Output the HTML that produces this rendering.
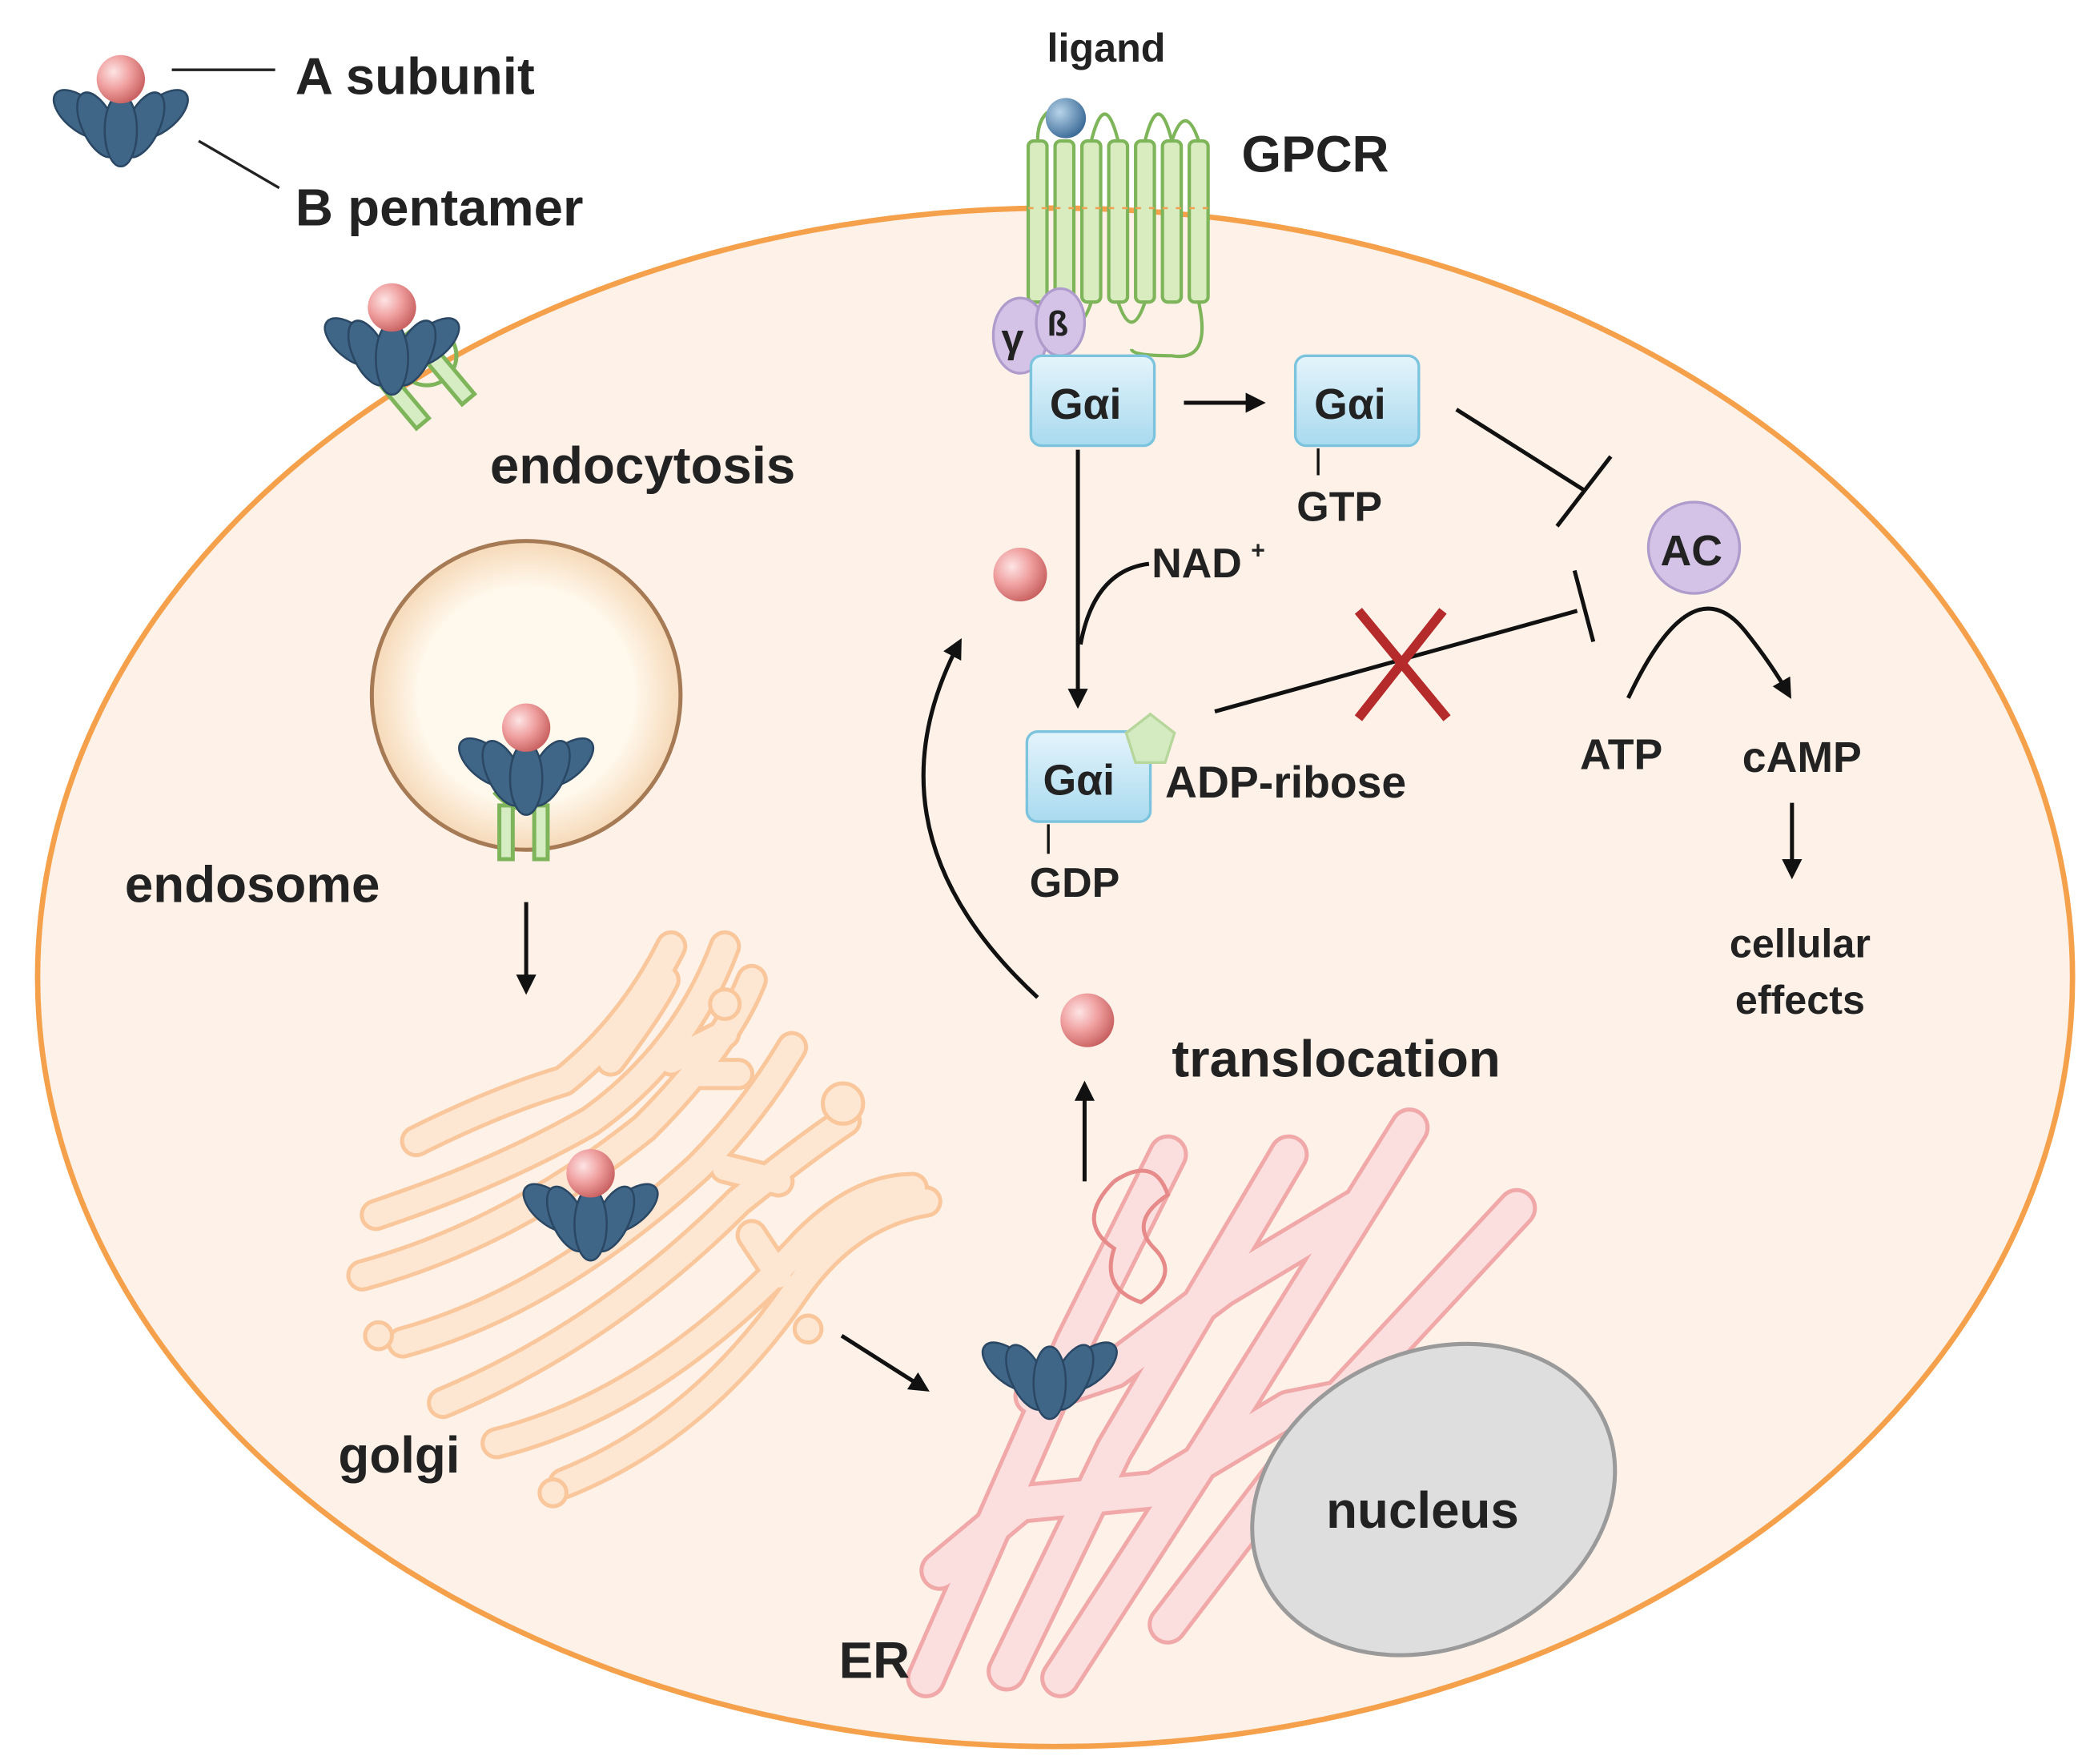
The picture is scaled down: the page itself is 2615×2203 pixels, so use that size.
<!DOCTYPE html>
<html><head><meta charset="utf-8"><style>
html,body{margin:0;padding:0;background:#fff}
svg{display:block}
text{font-family:"Liberation Sans",sans-serif;font-weight:bold;fill:#222}
</style></head><body>
<svg width="2615" height="2203" viewBox="0 0 1560 1314" preserveAspectRatio="none" xmlns="http://www.w3.org/2000/svg">
<defs>
<radialGradient id="pk" cx="0.35" cy="0.35" r="0.7"><stop offset="0" stop-color="#fde4e4"/><stop offset="0.5" stop-color="#f0a0a0"/><stop offset="1" stop-color="#c86060"/></radialGradient>
<radialGradient id="bl" cx="0.35" cy="0.35" r="0.7"><stop offset="0" stop-color="#b8d4ea"/><stop offset="1" stop-color="#3a6a96"/></radialGradient>
<linearGradient id="gb" x1="0" y1="0" x2="0" y2="1"><stop offset="0" stop-color="#e4f4fb"/><stop offset="1" stop-color="#a9daef"/></linearGradient>
<radialGradient id="endo" cx="0.5" cy="0.5" r="0.5"><stop offset="0.7" stop-color="#fff8ec"/><stop offset="1" stop-color="#f6d9b8"/></radialGradient>
<g id="fan">
<g fill="#3f6587" stroke="#2a4764" stroke-width="1.5">
<ellipse cx="-30" cy="10" rx="12" ry="24" transform="rotate(-50 -30 10)"/>
<ellipse cx="30" cy="10" rx="12" ry="24" transform="rotate(50 30 10)"/>
<ellipse cx="-17" cy="18" rx="12" ry="26" transform="rotate(-25 -17 18)"/>
<ellipse cx="17" cy="18" rx="12" ry="26" transform="rotate(25 17 18)"/>
<ellipse cx="0" cy="22" rx="12" ry="27"/>
</g></g>
<g id="tox"><use href="#fan"/><circle cx="0" cy="-16" r="18" fill="url(#pk)"/></g>
<marker id="ar" viewBox="0 0 10 10" refX="8" refY="5" markerWidth="5" markerHeight="5" orient="auto"><path d="M0,0 L10,5 L0,10 z" fill="#111"/></marker>
<g id="golgiP" fill="none" stroke-linecap="round" stroke-linejoin="round">
<path d="M310,850 q60,-30 110,-45 q50,-40 80,-100 M455,790 q30,-40 40,-60"/>
<path d="M280,905 q90,-30 160,-70 q70,-50 100,-130 M500,790 l40,-20"/>
<path d="M270,950 q110,-30 210,-110 q60,-60 80,-110 M520,800 l30,0"/>
<path d="M300,1000 q110,-30 220,-130 q40,-40 70,-90 M540,870 l40,10"/>
<path d="M330,1045 q120,-50 220,-150 q50,-40 80,-60 M560,920 l20,30"/>
<path d="M370,1075 q120,-30 230,-150 q40,-40 80,-40"/>
<path d="M420,1105 q100,-40 170,-140 q40,-60 100,-70"/>
</g>
<g id="erP" fill="none" stroke-linecap="round" stroke-linejoin="round">
<path d="M690,1250 L800,1000 L870,860"/>
<path d="M750,1245 L830,1080 L960,860"/>
<path d="M790,1250 L900,1080 L1050,840"/>
<path d="M870,1210 L1000,1040 L1130,900"/>
<path d="M700,1170 L760,1120 L860,1110 L960,1050 L1060,1030"/>
<path d="M770,1040 L830,1020 L910,960 L1010,900"/>
</g>
</defs>

<ellipse cx="786" cy="728" rx="758" ry="573" fill="#fdf1e8" stroke="#f5a04a" stroke-width="4"/>

<!-- legend -->
<g transform="translate(90,75)"><use href="#tox"/></g>
<line x1="128" y1="52" x2="205" y2="52" stroke="#222" stroke-width="2"/>
<line x1="148" y1="105" x2="208" y2="140" stroke="#222" stroke-width="2"/>
<text x="220" y="70" font-size="39">A subunit</text>
<text x="220" y="168" font-size="39">B pentamer</text>

<!-- endocytosis receptor -->
<g stroke="#7fb55a" stroke-width="3" fill="#d6edc4">
<circle cx="318" cy="265" r="22" fill="none"/>
<rect x="296" y="280" width="12" height="40" transform="rotate(-40 302 300)"/>
<rect x="330" y="262" width="12" height="40" transform="rotate(-40 336 282)"/>
</g>
<g transform="translate(292,245)"><use href="#tox"/></g>
<text x="365" y="360" font-size="39">endocytosis</text>

<!-- endosome -->
<circle cx="392" cy="518" r="115" fill="url(#endo)" stroke="#a57a55" stroke-width="3"/>
<g stroke="#7fb55a" stroke-width="3" fill="#d6edc4">
<rect x="372" y="600" width="10" height="40"/><rect x="398" y="600" width="10" height="40"/>
<path d="M368,590 q22,25 44,0" fill="none"/>
</g>
<g transform="translate(392,558)"><use href="#tox"/></g>
<text x="93" y="672" font-size="38">endosome</text>
<line x1="392" y1="672" x2="392" y2="738" stroke="#111" stroke-width="3" marker-end="url(#ar)"/>

<!-- golgi -->
<use href="#golgiP" stroke="#f9c79b" stroke-width="24"/>
<use href="#golgiP" stroke="#fde7d3" stroke-width="18"/>
<g fill="#fde7d3" stroke="#f9c79b" stroke-width="3">
<circle cx="540" cy="748" r="11"/><circle cx="628" cy="822" r="15"/><circle cx="282" cy="995" r="10"/><circle cx="412" cy="1112" r="10"/><circle cx="602" cy="990" r="10"/>
</g>
<g transform="translate(440,890)"><use href="#tox"/></g>
<text x="252" y="1097" font-size="38">golgi</text>
<line x1="627" y1="995" x2="690" y2="1035" stroke="#111" stroke-width="3" marker-end="url(#ar)"/>

<!-- ER -->
<use href="#erP" stroke="#f0a8a8" stroke-width="30"/>
<use href="#erP" stroke="#fbdfdf" stroke-width="24"/>
<path d="M830,880 q30,-20 40,10 q-30,20 -10,40 q20,20 -10,40 q-30,-10 -20,-40 q-30,-20 0,-50" fill="none" stroke="#e78a8a" stroke-width="3"/>
<g transform="translate(782,1008)"><use href="#fan"/></g>
<text x="625" y="1250" font-size="38">ER</text>

<!-- nucleus -->
<ellipse cx="1068" cy="1117" rx="140" ry="110" transform="rotate(-25 1068 1117)" fill="#dedede" stroke="#9a9a9a" stroke-width="3"/>
<text x="988" y="1138" font-size="38">nucleus</text>

<!-- translocation -->
<line x1="808" y1="880" x2="808" y2="808" stroke="#111" stroke-width="3" marker-end="url(#ar)"/>
<circle cx="810" cy="760" r="20" fill="url(#pk)"/>
<text x="873" y="802" font-size="39">translocation</text>
<path d="M773,743 Q640,620 715,478" fill="none" stroke="#111" stroke-width="3" marker-end="url(#ar)"/>
<circle cx="760" cy="428" r="20" fill="url(#pk)"/>

<!-- GPCR -->
<g fill="#d8ecc0" stroke="#7fb55a" stroke-width="2.5">
<rect x="766" y="105" width="14" height="120" rx="4"/><rect x="786" y="105" width="14" height="120" rx="4"/>
<rect x="806" y="105" width="14" height="120" rx="4"/><rect x="826" y="105" width="14" height="120" rx="4"/>
<rect x="846" y="105" width="14" height="120" rx="4"/><rect x="866" y="105" width="14" height="120" rx="4"/>
<rect x="886" y="105" width="14" height="120" rx="4"/>
</g>
<path d="M773,105 q0,-25 20,-25 M813,105 q10,-40 20,0 M853,105 q10,-40 20,0 M873,105 q10,-30 20,0 M793,225 q10,30 20,0 M833,225 q10,30 20,0 M893,225 q10,45 -20,40 q-30,0 -30,-5" fill="none" stroke="#7fb55a" stroke-width="2.5"/>
<line x1="766" y1="155" x2="900" y2="155" stroke="#f0a050" stroke-width="1.5" stroke-dasharray="4,6"/>
<circle cx="794" cy="88" r="15" fill="url(#bl)"/>
<text x="780" y="46" font-size="30">ligand</text>
<text x="925" y="128" font-size="38">GPCR</text>
<ellipse cx="760" cy="250" rx="20" ry="28" fill="#d4c3e6" stroke="#b09ccc" stroke-width="2"/>
<ellipse cx="790" cy="240" rx="18" ry="25" fill="#d4c3e6" stroke="#b09ccc" stroke-width="2"/>
<text x="746" y="262" font-size="30">γ</text><text x="780" y="250" font-size="26">ß</text>

<!-- Gai boxes -->
<rect x="768" y="265" width="92" height="67" rx="8" fill="url(#gb)" stroke="#7cc4de" stroke-width="2"/>
<text x="782" y="312" font-size="32">Gαi</text>
<line x1="882" y1="300" x2="940" y2="300" stroke="#111" stroke-width="3" marker-end="url(#ar)"/>
<rect x="965" y="265" width="92" height="67" rx="8" fill="url(#gb)" stroke="#7cc4de" stroke-width="2"/>
<text x="979" y="312" font-size="32">Gαi</text>
<line x1="982" y1="334" x2="982" y2="354" stroke="#111" stroke-width="2"/>
<text x="966" y="388" font-size="31">GTP</text>
<line x1="1085" y1="305" x2="1180" y2="365" stroke="#111" stroke-width="3"/>
<line x1="1160" y1="392" x2="1200" y2="340" stroke="#111" stroke-width="3"/>

<line x1="803" y1="335" x2="803" y2="525" stroke="#111" stroke-width="3" marker-end="url(#ar)"/>
<path d="M856,420 Q815,425 805,480" fill="none" stroke="#111" stroke-width="3"/>
<text x="858" y="430" font-size="31">NAD</text><text x="932" y="416" font-size="18">+</text>

<rect x="765" y="545" width="92" height="67" rx="8" fill="url(#gb)" stroke="#7cc4de" stroke-width="2"/>
<text x="777" y="592" font-size="32">Gαi</text>
<polygon points="857,532 875,546 868,568 846,568 839,546" fill="#d4eac0" stroke="#b6d69c" stroke-width="2"/>
<line x1="781" y1="614" x2="781" y2="636" stroke="#111" stroke-width="2"/>
<text x="767" y="668" font-size="31">GDP</text>
<text x="868" y="594" font-size="33">ADP-ribose</text>
<line x1="905" y1="530" x2="1175" y2="455" stroke="#111" stroke-width="3"/>
<line x1="1173" y1="425" x2="1187" y2="478" stroke="#111" stroke-width="3"/>
<path d="M1012,455 L1078,535 M1075,455 L1012,535" stroke="#b52a2a" stroke-width="7"/>

<!-- AC -->
<circle cx="1262" cy="408" r="34" fill="#d4c3e6" stroke="#b09ccc" stroke-width="2"/>
<text x="1237" y="421" font-size="32">AC</text>
<path d="M1213,520 Q1260,420 1300,470 Q1320,495 1333,518" fill="none" stroke="#111" stroke-width="3" marker-end="url(#ar)"/>
<text x="1177" y="573" font-size="32">ATP</text>
<text x="1298" y="575" font-size="32">cAMP</text>
<line x1="1335" y1="598" x2="1335" y2="652" stroke="#111" stroke-width="3" marker-end="url(#ar)"/>
<text x="1341" y="713" font-size="30" text-anchor="middle">cellular</text>
<text x="1341" y="755" font-size="30" text-anchor="middle">effects</text>
</svg>
</body></html>
